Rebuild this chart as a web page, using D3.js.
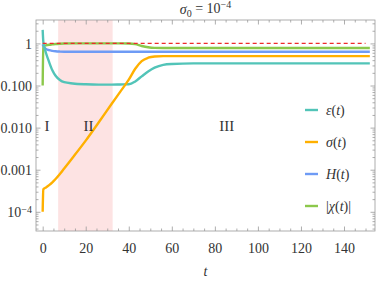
<!DOCTYPE html>
<html>
<head>
<meta charset="utf-8">
<script src="https://cdn.jsdelivr.net/npm/d3@7"></script>
<style>
  body { margin: 0; background: #fff; }
  svg { display: block; font-family: "Liberation Serif", "DejaVu Serif", serif; }
</style>
</head>
<body>
<svg id="chart" width="382" height="284"></svg>
<script>
// shared time grid
var times    = [0, 0.3, 0.8, 1.5, 3, 4.5, 6, 8, 10, 14, 20, 26, 32, 36, 40, 43, 46, 49, 52, 56, 60, 70, 152];
var epsVals  = [2.1, 1.1, 0.8, 0.6, 0.36, 0.23, 0.17, 0.135, 0.12, 0.112, 0.107, 0.105, 0.105, 0.106, 0.107, 0.125, 0.165, 0.215, 0.265, 0.31, 0.325, 0.335, 0.335];
var sigVals  = [1e-4, 3.4e-4, 3.6e-4, 3.8e-4, 4.3e-4, 5e-4, 6e-4, 7.9e-4, 1.07e-3, 1.95e-3, 4.9e-3, 0.0132, 0.0363, 0.0708, 0.138, 0.25, 0.38, 0.457, 0.49, 0.5, 0.5, 0.5, 0.5];
var hVals    = [0.95, 0.88, 0.8, 0.74, 0.69, 0.665, 0.65, 0.64, 0.635, 0.635, 0.635, 0.635, 0.635, 0.635, 0.635, 0.635, 0.635, 0.635, 0.635, 0.635, 0.635, 0.635, 0.635];
var chiVals  = [0.1, 0.85, 0.88, 0.9, 0.93, 0.95, 0.97, 0.985, 0.995, 1.0, 1.0, 1.0, 1.0, 1.0, 0.995, 0.96, 0.87, 0.81, 0.785, 0.78, 0.78, 0.78, 0.78];

var seriesNames  = ['ε', 'σ', 'H', 'χ'];
var seriesColors = ['#52c4b8', '#ffb000', '#6e9bf5', '#8cc84b'];

var xMajor = [0, 20, 40, 60, 80, 100, 120, 140];
var yMajor = [1e-4, 1e-3, 1e-2, 1e-1, 1];
var yLabels = ['10-4', '0.001', '0.010', '0.100', '1'];
var regionBand = [7.2, 32.5];
var regionLabels = [{t: 0.8, text: 'I'}, {t: 19, text: 'II'}, {t: 82, text: 'III'}];

var serif = '"Liberation Serif", "DejaVu Serif", serif';
var svg = d3.select('#chart');
var mLeft = 36, mRight = 375, mTop = 20, mBottom = 231;

var x = d3.scaleLinear().domain([-3.1, 154.4]).range([mLeft, mRight]);
var y = d3.scaleLog().domain([3.5e-5, 3.6]).range([mBottom, mTop]);

// shaded region II
svg.append('rect')
  .attr('x', x(regionBand[0]))
  .attr('y', mTop)
  .attr('width', x(regionBand[1]) - x(regionBand[0]))
  .attr('height', mBottom - mTop)
  .attr('fill', '#fde3e3');

// frame + ticks
var frameColor = '#999';
var xMinor = d3.range(0, 155, 5).filter(function (d) { return d % 20 !== 0; });
var yMinor = [];
[1e-5, 1e-4, 1e-3, 1e-2, 1e-1, 1].forEach(function (p) {
  for (var k = 2; k <= 9; k++) {
    var v = p * k;
    if (v > 3.5e-5 && v < 3.6) yMinor.push(v);
  }
});

function drawAxis(axisFn, scale, transform, values, size, labels) {
  var ax = axisFn(scale).tickValues(values).tickSizeInner(-size).tickSizeOuter(0);
  if (!labels) ax.tickFormat('');
  var g = svg.append('g').attr('transform', transform).call(ax)
    .attr('font-family', serif).attr('font-size', 14);
  g.select('.domain').remove();
  g.selectAll('line').attr('stroke', frameColor).attr('stroke-width', 0.8);
  return g;
}

drawAxis(d3.axisBottom, x, 'translate(0,' + mBottom + ')', xMinor, 2.5, false);
drawAxis(d3.axisTop, x, 'translate(0,' + mTop + ')', xMinor, 2.5, false);
drawAxis(d3.axisTop, x, 'translate(0,' + mTop + ')', xMajor, 4.5, false);
var xg = drawAxis(d3.axisBottom, x, 'translate(0,' + mBottom + ')', xMajor, 4.5, true);
xg.selectAll('text')
  .attr('y', 12)
  .attr('fill', '#333');

drawAxis(d3.axisLeft, y, 'translate(' + mLeft + ',0)', yMinor, 2.5, false);
drawAxis(d3.axisRight, y, 'translate(' + mRight + ',0)', yMinor, 2.5, false);
drawAxis(d3.axisRight, y, 'translate(' + mRight + ',0)', yMajor, 4.5, false);
var yg = drawAxis(d3.axisLeft, y, 'translate(' + mLeft + ',0)', yMajor, 4.5, true);
yg.selectAll('text').remove();
yg.selectAll('.tick').append('text')
  .attr('x', -4)
  .attr('dy', '0.35em')
  .attr('text-anchor', 'end')
  .attr('fill', '#333')
  .each(function (d, i) {
    var t = d3.select(this);
    if (yLabels[i] === '10-4') {
      t.append('tspan').text('10');
      t.append('tspan').attr('dy', '-0.45em').style('font-size', '10px').text('−4');
    } else {
      t.text(yLabels[i]);
    }
  });

svg.append('rect')
  .attr('x', mLeft).attr('y', mTop)
  .attr('width', mRight - mLeft).attr('height', mBottom - mTop)
  .attr('fill', 'none').attr('stroke', frameColor).attr('stroke-width', 0.8);

// curves
var allVals = [epsVals, sigVals, hVals, chiVals];
var line = d3.line()
  .x(function (d) { return x(d[0]); })
  .y(function (d) { return y(d[1]); })
  .curve(d3.curveMonotoneX);

[3, 2, 0, 1].forEach(function (i) {
  var pts = times.map(function (t, j) { return [t, allVals[i][j]]; });
  svg.append('path')
    .attr('d', line(pts))
    .attr('fill', 'none')
    .attr('stroke', seriesColors[i])
    .attr('stroke-width', 2.4)
    .attr('stroke-linejoin', 'round');
});

// reference line at 1, on top of the curves
svg.append('line')
  .attr('x1', x(0)).attr('x2', x(150))
  .attr('y1', y(1)).attr('y2', y(1))
  .attr('stroke', '#ee2a2a').attr('stroke-width', 1.1)
  .attr('stroke-dasharray', '4,3');

// region labels
regionLabels.forEach(function (r) {
  svg.append('text')
    .attr('x', x(r.t))
    .attr('y', 131)
    .attr('fill', '#333')
    .style('font-size', '15px')
    .text(r.text);
});

// legend
var legendY = [110, 142, 174, 206];
seriesNames.forEach(function (name, i) {
  svg.append('line')
    .attr('x1', 305).attr('x2', 318)
    .attr('y1', legendY[i]).attr('y2', legendY[i])
    .attr('stroke', seriesColors[i]).attr('stroke-width', 2.4);
  var t = svg.append('text')
    .attr('x', 326)
    .attr('y', legendY[i] + 5)
    .attr('fill', '#333')
    .style('font-size', '14px');
  if (name === 'χ') t.append('tspan').text('|');
  t.append('tspan').style('font-style', 'italic').text(name);
  t.append('tspan').text('(');
  t.append('tspan').style('font-style', 'italic').text('t');
  t.append('tspan').text(')');
  if (name === 'χ') t.append('tspan').text('|');
});

// title
var title = svg.append('text')
  .attr('x', (mLeft + mRight) / 2)
  .attr('y', 14)
  .attr('text-anchor', 'middle')
  .attr('fill', '#333')
  .style('font-size', '14px');
title.append('tspan').style('font-style', 'italic').text('σ');
title.append('tspan').attr('dy', '0.3em').style('font-size', '10px').text('0');
title.append('tspan').attr('dy', '-0.3em').text(' = 10');
title.append('tspan').attr('dy', '-0.45em').style('font-size', '10px').text('−4');

// x label
svg.append('text')
  .attr('x', (mLeft + mRight) / 2)
  .attr('y', 276)
  .attr('text-anchor', 'middle')
  .attr('fill', '#333')
  .style('font-size', '14px')
  .style('font-style', 'italic')
  .text('t');
</script>
</body>
</html>
